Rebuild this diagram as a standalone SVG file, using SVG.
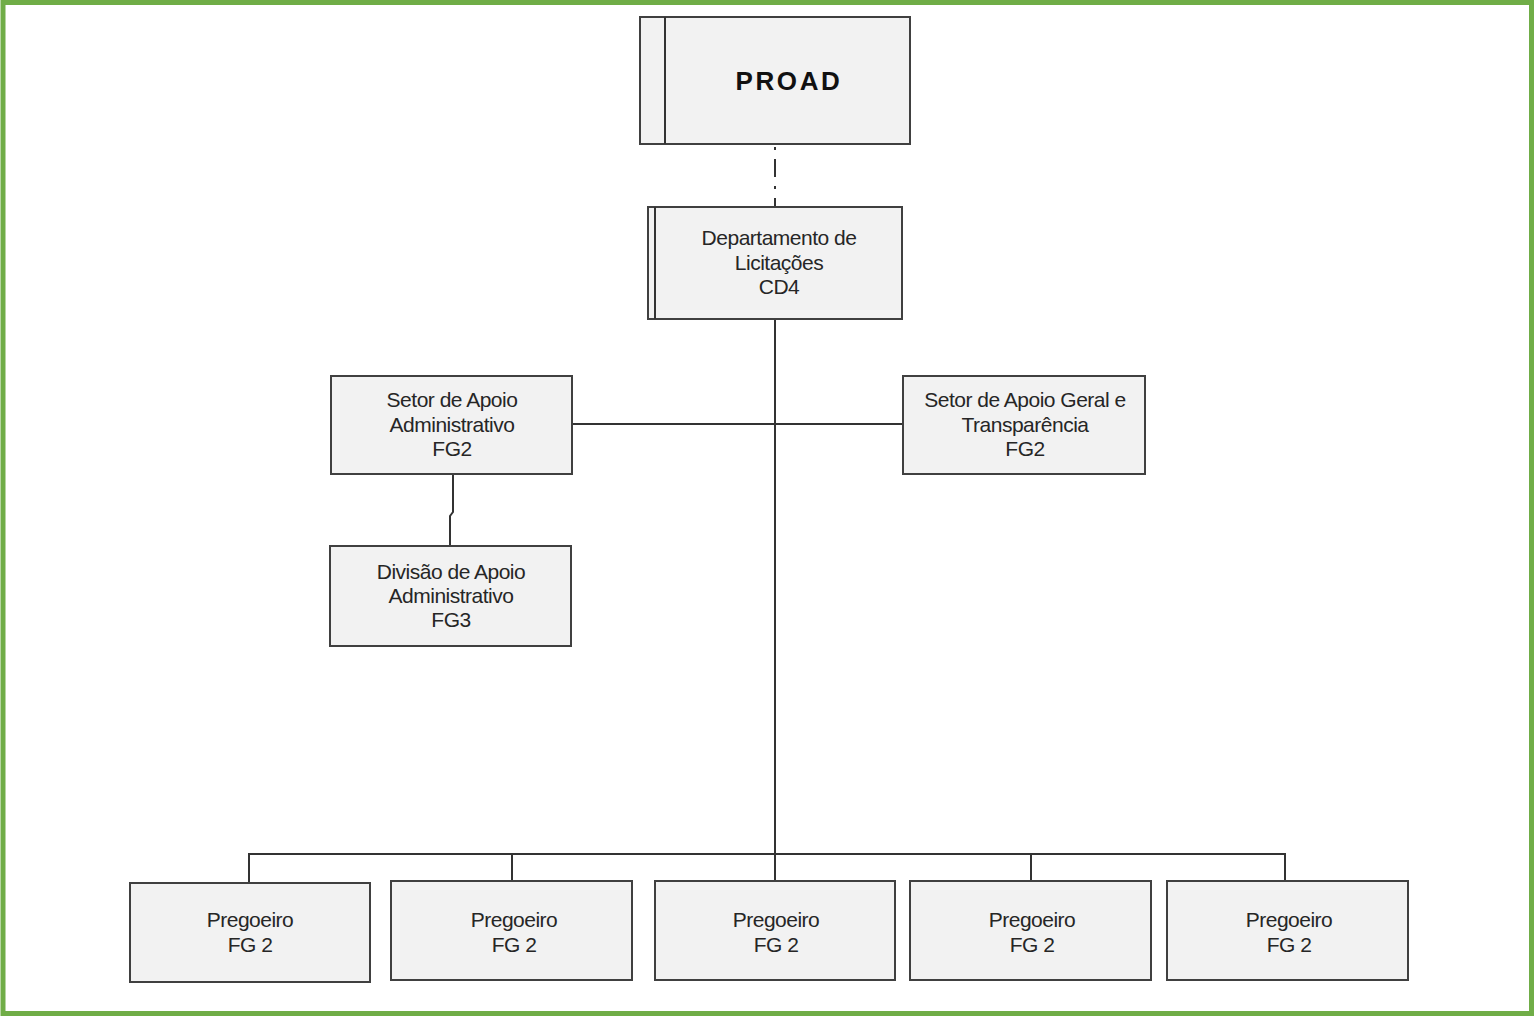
<svg xmlns="http://www.w3.org/2000/svg" width="1534" height="1016" viewBox="0 0 1534 1016">
<style>
.box{fill:#f2f2f2;stroke:#404040;stroke-width:2}
.ln{fill:none;stroke:#333;stroke-width:2}
.t{font-family:"Liberation Sans",Arial,sans-serif;font-size:21px;fill:#262626;text-anchor:middle;letter-spacing:-0.5px}
.tb{font-family:"Liberation Sans",Arial,sans-serif;font-size:26px;font-weight:bold;fill:#111;text-anchor:middle;letter-spacing:2.6px}
</style>
<rect x="0" y="0" width="1534" height="1016" fill="#fff"/>
<rect x="3" y="2.5" width="1528.5" height="1011" fill="none" stroke="#70ad47" stroke-width="5"/>
<g id="connectors">
<path class="ln" d="M775 147 V207" stroke-dasharray="3 9 18 9"/>
<path class="ln" d="M775 319 V854"/>
<path class="ln" d="M572 424 H903"/>
<path class="ln" d="M453 474 V512 L450 516 V546"/>
<path class="ln" d="M249 883 V854 H1285 V881"/>
<path class="ln" d="M512 854 V881"/>
<path class="ln" d="M775 854 V881"/>
<path class="ln" d="M1031 854 V881"/>
</g>
<g id="proad">
<rect class="box" x="640" y="17" width="270" height="127"/>
<path class="ln" d="M665 17 V144"/>
<text class="tb" x="789" y="90">PROAD</text>
</g>
<g id="dept">
<rect class="box" x="648" y="207" width="254" height="112"/>
<path class="ln" d="M655 207 V319" stroke-width="1.5"/>
<text class="t" x="779" y="245">Departamento de</text>
<text class="t" x="779" y="270">Licitações</text>
<text class="t" x="779" y="294">CD4</text>
</g>
<g id="setor-admin">
<rect class="box" x="331" y="376" width="241" height="98"/>
<text class="t" x="452" y="407">Setor de Apoio</text>
<text class="t" x="452" y="432">Administrativo</text>
<text class="t" x="452" y="456">FG2</text>
</g>
<g id="setor-geral">
<rect class="box" x="903" y="376" width="242" height="98"/>
<text class="t" x="1025" y="407">Setor de Apoio Geral e</text>
<text class="t" x="1025" y="432">Transparência</text>
<text class="t" x="1025" y="456">FG2</text>
</g>
<g id="divisao">
<rect class="box" x="330" y="546" width="241" height="100"/>
<text class="t" x="451" y="579">Divisão de Apoio</text>
<text class="t" x="451" y="603">Administrativo</text>
<text class="t" x="451" y="627">FG3</text>
</g>
<g id="preg1">
<rect class="box" x="130" y="883" width="240" height="99"/>
<text class="t" x="250" y="927">Pregoeiro</text>
<text class="t" x="250" y="952">FG 2</text>
</g>
<g id="preg2">
<rect class="box" x="391" y="881" width="241" height="99"/>
<text class="t" x="514" y="927">Pregoeiro</text>
<text class="t" x="514" y="952">FG 2</text>
</g>
<g id="preg3">
<rect class="box" x="655" y="881" width="240" height="99"/>
<text class="t" x="776" y="927">Pregoeiro</text>
<text class="t" x="776" y="952">FG 2</text>
</g>
<g id="preg4">
<rect class="box" x="910" y="881" width="241" height="99"/>
<text class="t" x="1032" y="927">Pregoeiro</text>
<text class="t" x="1032" y="952">FG 2</text>
</g>
<g id="preg5">
<rect class="box" x="1167" y="881" width="241" height="99"/>
<text class="t" x="1289" y="927">Pregoeiro</text>
<text class="t" x="1289" y="952">FG 2</text>
</g>
</svg>
